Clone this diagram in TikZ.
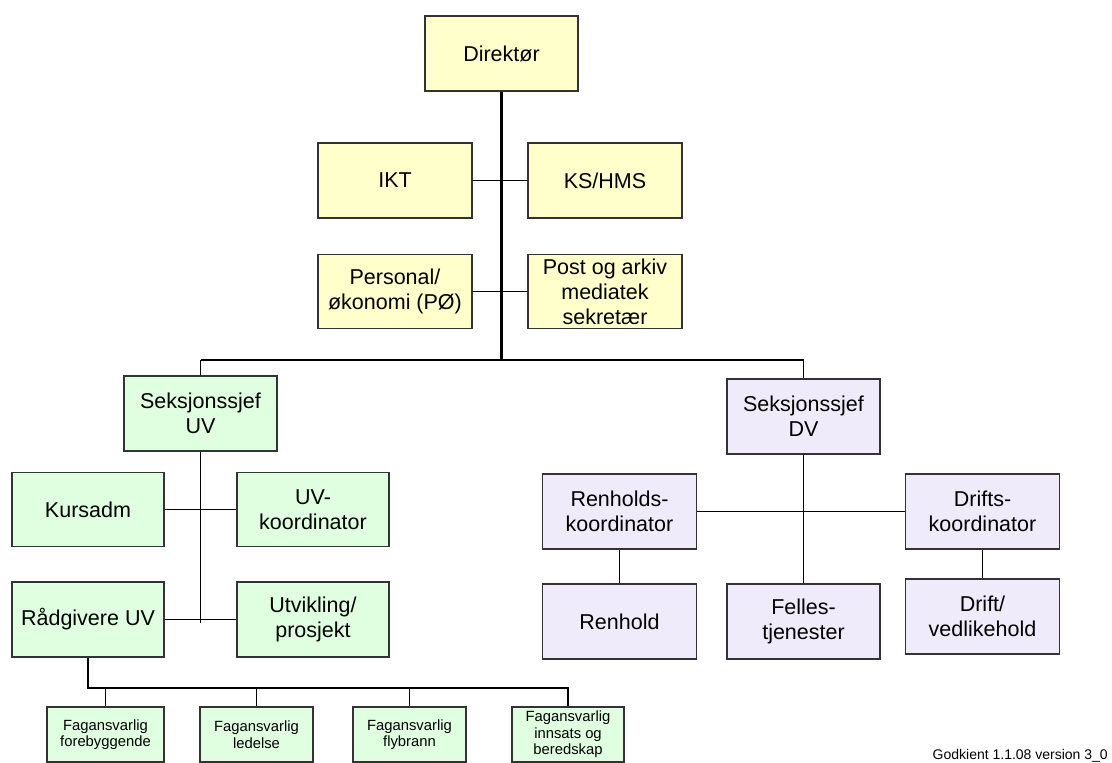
\documentclass[tikz,border=0pt]{standalone}
\usepackage{fontspec}
\setmainfont{Liberation Sans}
\definecolor{yel}{HTML}{FFFFCC}
\definecolor{grn}{HTML}{E0FFE0}
\definecolor{pur}{HTML}{F0EBFA}
\definecolor{edge}{HTML}{333333}
\tikzset{
  box/.style={draw=edge, line width=1.2pt, inner sep=0pt, align=center,
    font=\fontsize{21.5}{25}\selectfont},
  ybox/.style={box, fill=yel},
  gbox/.style={box, fill=grn},
  pbox/.style={box, fill=pur},
  sbox/.style={draw=edge, line width=1.1pt, fill=grn, inner sep=0pt, align=center,
    minimum height=55pt, font=\fontsize{14.8}{16.5}\selectfont},
  conn/.style={draw=black, line width=1.1pt},
  thick conn/.style={draw=black, line width=2.2pt},
}
\begin{document}
\begin{tikzpicture}[x={(1pt,0)}, y={(0,-1pt)}]
\useasboundingbox[fill=white] (0,0) rectangle (1112,763);
% top yellow
\node[ybox, minimum width=153pt, minimum height=75pt] (dir) at (501.5,53.5) {Direktør};
\node[ybox, minimum width=154pt, minimum height=75pt] (ikt) at (395,180.5) {IKT};
\node[ybox, minimum width=154pt, minimum height=75pt] (ks) at (605,180.5) {KS/HMS};
\node[ybox, minimum width=154pt, minimum height=74pt] (pers) at (395,291.5) {Personal/\\økonomi (PØ)};
\node[ybox, minimum width=154pt, minimum height=74pt] (post) at (605,291.5) {Post og arkiv\\mediatek\\sekretær};
% UV
\node[gbox, minimum width=153pt, minimum height=75pt] (suv) at (200.5,413.5) {Seksjonssjef\\UV};
\node[gbox, minimum width=152pt, minimum height=74pt] (kurs) at (88,509.5) {Kursadm};
\node[gbox, minimum width=152pt, minimum height=74pt] (uvk) at (313,509.5) {UV-\\koordinator};
\node[gbox, minimum width=152pt, minimum height=75pt] (rad) at (88,619.5) {Rådgivere UV};
\node[gbox, minimum width=152pt, minimum height=75pt] (utv) at (313,619.5) {Utvikling/\\prosjekt};
% DV
\node[pbox, minimum width=153pt, minimum height=75pt] (sdv) at (803.5,416.5) {Seksjonssjef\\DV};
\node[pbox, minimum width=154pt, minimum height=75pt] (renk) at (619.5,511.5) {Renholds-\\koordinator};
\node[pbox, minimum width=154pt, minimum height=75pt] (drk) at (982.5,511.5) {Drifts-\\koordinator};
\node[pbox, minimum width=154pt, minimum height=75pt] (ren) at (619.5,621.5) {Renhold};
\node[pbox, minimum width=153pt, minimum height=75pt] (fel) at (803.5,621.5) {Felles-\\tjenester};
\node[pbox, minimum width=154pt, minimum height=75pt] (drv) at (982.5,616.5) {Drift/\\vedlikehold};
% bottom small
\node[sbox, minimum width=117pt] (f1) at (105.5,734.5) {Fagansvarlig\\forebyggende};
\node[sbox, minimum width=113pt] (f2) at (256.5,734.5) {Fagansvarlig\\ledelse};
\node[sbox, minimum width=113pt] (f3) at (409.5,734.5) {Fagansvarlig\\flybrann};
\node[sbox, minimum width=112pt] (f4) at (568,734.5) {Fagansvarlig\\innsats og\\beredskap};
% footer
\node[anchor=base east, inner sep=0pt, font=\fontsize{14}{16}\selectfont] (gk) at (1108,759.5) {Godkient 1.1.08 version 3\_0};
% coordinates
\coordinate (top) at (501.5,360);
\coordinate (tl) at (200.5,360);
\coordinate (tr) at (803.5,360);
\coordinate (uvend) at (200.5,623);
\coordinate (rb) at (88,688);
\coordinate (re) at (568,688);
% connectors
\draw[thick conn] (dir.south) -- (top);
\draw[conn] (tl) -- (tr);
\draw[conn] (tl) -- (suv.north);
\draw[conn] (tr) -- (sdv.north);
\draw[conn] (ikt.east) -- (ks.west);
\draw[conn] (pers.east) -- (post.west);
\draw[conn] (suv.south) -- (uvend);
\draw[conn] (kurs.east) -- (uvk.west);
\draw[conn] (rad.east) -- (utv.west);
\draw[thick conn] (rad.south) -- (rb) -- (re) -- (f4.north);
\draw[conn] (f1.north) -- (f1.north |- rb);
\draw[conn] (f2.north) -- (f2.north |- rb);
\draw[conn] (f3.north) -- (f3.north |- rb);
\draw[conn] (sdv.south) -- (fel.north);
\draw[conn] (renk.east) -- (drk.west);
\draw[conn] (renk.south) -- (ren.north);
\draw[conn] (drk.south) -- (drv.north);
\end{tikzpicture}
\end{document}
